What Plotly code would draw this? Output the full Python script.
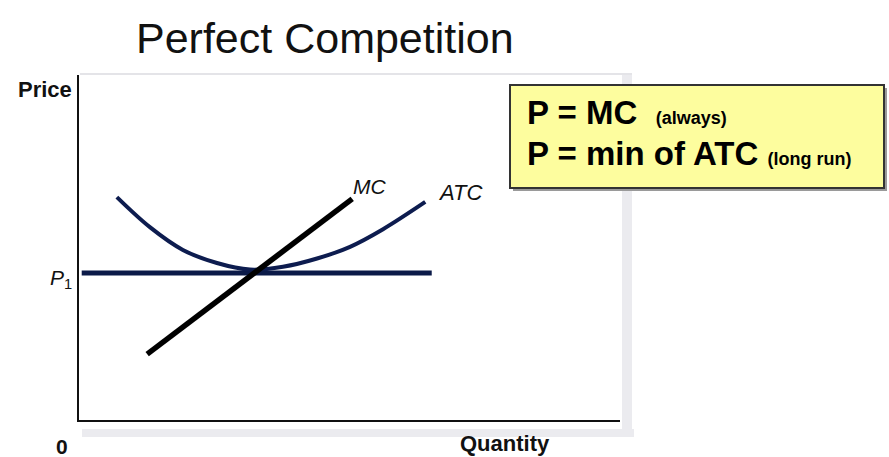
import plotly.graph_objects as go

# ---- data (in arbitrary 0-10 axis units) ----
atc_q = [0.70, 1.31, 1.92, 2.55, 3.16, 3.77, 4.40, 5.01, 5.62, 6.40]
atc_p = [6.46, 5.59, 4.93, 4.55, 4.36, 4.44, 4.68, 5.02, 5.53, 6.32]
mc_q = [1.26, 5.05]
mc_p = [1.91, 6.41]
p1_q = [0.05, 6.52]
p1_p = [4.26, 4.26]

title_text = "Perfect Competition"
y_label = "Price"
x_label = "Quantity"
origin_label = "0"
price_label = "<i>P</i><sub>1</sub>"
mc_label = "MC"
atc_label = "ATC"
box_line1 = "<b>P = MC</b>  <span style='font-size:18px'><b>(always)</b></span>"
box_line2 = "<b>P = min of ATC</b> <span style='font-size:18px'><b>(long run)</b></span>"

W, H = 889, 457
L, R, T, B = 79, 620, 75, 420  # plot area in pixels
FONT = "Liberation Sans, Arial"


def px(x):
    return (x - L) / (R - L)


def py(y):
    return (B - y) / (B - T)


fig = go.Figure()
fig.add_trace(go.Scatter(x=p1_q, y=p1_p, mode="lines",
                         line=dict(color="#0b1a48", width=5), hoverinfo="skip"))
fig.add_trace(go.Scatter(x=atc_q, y=atc_p, mode="lines",
                         line=dict(color="#0d1c4f", width=4, shape="spline", smoothing=1.0),
                         hoverinfo="skip"))
fig.add_trace(go.Scatter(x=mc_q, y=mc_p, mode="lines",
                         line=dict(color="#000000", width=5.5), hoverinfo="skip"))

shapes = [
    # light grey frame/shadow
    dict(type="line", xref="paper", yref="paper", x0=px(80), x1=px(632), y0=py(74), y1=py(74),
         line=dict(color="#e4e4e8", width=2), layer="below"),
    dict(type="rect", xref="paper", yref="paper", x0=px(622), x1=px(632), y0=py(75), y1=py(436),
         fillcolor="#ebebef", line=dict(width=0), layer="below"),
    dict(type="rect", xref="paper", yref="paper", x0=px(82), x1=px(634), y0=py(429), y1=py(437),
         fillcolor="#ebebef", line=dict(width=0), layer="below"),
    # yellow box shadow and box
    dict(type="rect", xref="paper", yref="paper", x0=px(513), x1=px(887), y0=py(191), y1=py(88),
         fillcolor="#9a9a9a", line=dict(width=0)),
    dict(type="rect", xref="paper", yref="paper", x0=px(510), x1=px(884), y0=py(188), y1=py(85),
         fillcolor="#fdfd9e", line=dict(color="#333333", width=2)),
]

ann = [
    dict(text=title_text, x=px(325), y=py(38), font=dict(size=43, family=FONT, color="#111")),
    dict(text="<b>" + y_label + "</b>", x=px(74), y=py(89), xanchor="right",
         font=dict(size=22, family=FONT, color="#111")),
    dict(text="<b>" + x_label + "</b>", x=px(505), y=py(443),
         font=dict(size=22, family=FONT, color="#111")),
    dict(text="<b>" + origin_label + "</b>", x=px(62), y=py(446),
         font=dict(size=21, family=FONT, color="#111")),
    dict(text=price_label, x=px(74), y=py(279), xanchor="right",
         font=dict(size=21, family=FONT, color="#111")),
    dict(text="<i>" + mc_label + "</i>", x=px(369), y=py(186),
         font=dict(size=21, family=FONT, color="#111")),
    dict(text="<i>" + atc_label + "</i>", x=px(460), y=py(192),
         font=dict(size=22, family=FONT, color="#111")),
    dict(text=box_line1, x=px(525), y=py(113), xanchor="left",
         font=dict(size=33, family=FONT, color="#000")),
    dict(text=box_line2, x=px(525), y=py(153), xanchor="left",
         font=dict(size=33, family=FONT, color="#000")),
]
for a in ann:
    a.setdefault("xref", "paper")
    a.setdefault("yref", "paper")
    a.setdefault("xanchor", "center")
    a["yanchor"] = "middle"
    a["showarrow"] = False

fig.update_layout(
    width=W, height=H, autosize=False,
    margin=dict(l=L, r=W - R, t=T, b=H - B, pad=0),
    paper_bgcolor="white", plot_bgcolor="white",
    showlegend=False,
    shapes=shapes, annotations=ann,
    xaxis=dict(range=[0, 10], showgrid=False, zeroline=False, showticklabels=False, ticks="",
               showline=True, linecolor="#111", linewidth=2, fixedrange=True),
    yaxis=dict(range=[0, 10], showgrid=False, zeroline=False, showticklabels=False, ticks="",
               showline=True, linecolor="#111", linewidth=2, fixedrange=True),
)

fig.write_html("out.html", config={"displayModeBar": False},
               post_script="document.body.style.margin='0';document.body.style.overflow='hidden';")
